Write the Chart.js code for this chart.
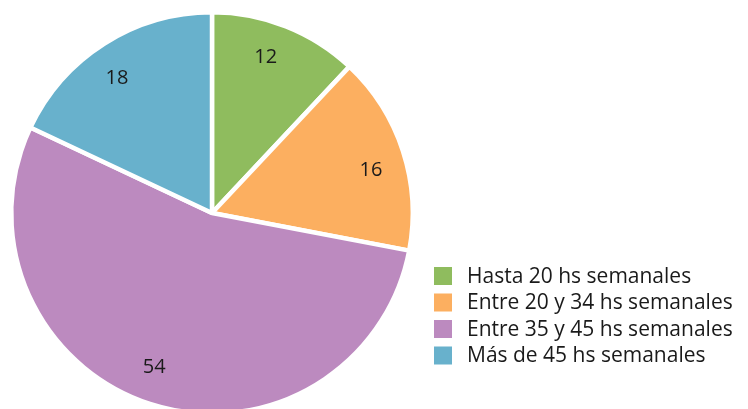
<!DOCTYPE html>
<html>
<head>
<meta charset="utf-8">
<script src="https://cdn.jsdelivr.net/npm/chart.js@4.4.0/dist/chart.umd.min.js"></script>
<style>
  html, body { margin: 0; padding: 0; background: #fff; overflow: hidden; }
  #wrap { position: relative; width: 748px; height: 430px; }
</style>
</head>
<body>
<div id="wrap"><canvas id="graficoHoras" width="748" height="430"></canvas></div>
<script>
var categorias = ["Hasta 20 hs semanales", "Entre 20 y 34 hs semanales", "Entre 35 y 45 hs semanales", "Más de 45 hs semanales"];
var valores = [12, 16, 54, 18];
var colores = ['#8fbc5e', '#fcaf60', '#bc8abf', '#68b1cc'];

// ajuste fino del angulo de cada etiqueta (radianes)
var ajusteEtiqueta = [-0.045, 0.05, 0.045, -0.05];

// etiquetas dentro de cada porcion
var etiquetasPlugin = {
    id: 'etiquetas',
    afterDatasetsDraw: function (chart) {
        var ctx = chart.ctx;
        var meta = chart.getDatasetMeta(0);
        ctx.save();
        ctx.font = '20px "Open Sans", Arial, sans-serif';
        ctx.fillStyle = '#1a1a1a';
        ctx.textAlign = 'center';
        ctx.textBaseline = 'middle';
        meta.data.forEach(function (arc, i) {
            var p = arc.getProps(['x', 'y', 'startAngle', 'endAngle', 'outerRadius'], true);
            var mid = (p.startAngle + p.endAngle) / 2 + ajusteEtiqueta[i];
            var r = p.outerRadius * 0.82;
            ctx.fillText(String(valores[i]), p.x + Math.cos(mid) * r, p.y + Math.sin(mid) * r);
        });
        ctx.restore();
    }
};

// leyenda a la derecha
var leyendaPlugin = {
    id: 'leyenda',
    afterDraw: function (chart) {
        var ctx = chart.ctx;
        var ds = chart.data.datasets[0];
        ctx.save();
        ctx.font = '21px "Open Sans", Arial, sans-serif';
        ctx.textBaseline = 'middle';
        chart.data.labels.forEach(function (lab, i) {
            var y = 276 + i * 26.5;
            ctx.fillStyle = ds.backgroundColor[i];
            ctx.fillRect(434, y - 9, 18, 18);
            ctx.fillStyle = '#1a1a1a';
            ctx.fillText(lab, 467, y + 1);
        });
        ctx.restore();
    }
};

var ctx = document.getElementById('graficoHoras').getContext('2d');
var chart = new Chart(ctx, {
    type: 'pie',
    data: {
        labels: categorias,
        datasets: [{
            data: valores,
            backgroundColor: colores,
            borderColor: '#ffffff',
            borderWidth: 4.5
        }]
    },
    options: {
        responsive: false,
        animation: false,
        layout: { padding: { left: 9, top: 10, right: 333, bottom: 14 } },
        plugins: {
            legend: { display: false },
            tooltip: { enabled: false }
        }
    },
    plugins: [etiquetasPlugin, leyendaPlugin]
});
</script>
</body>
</html>
